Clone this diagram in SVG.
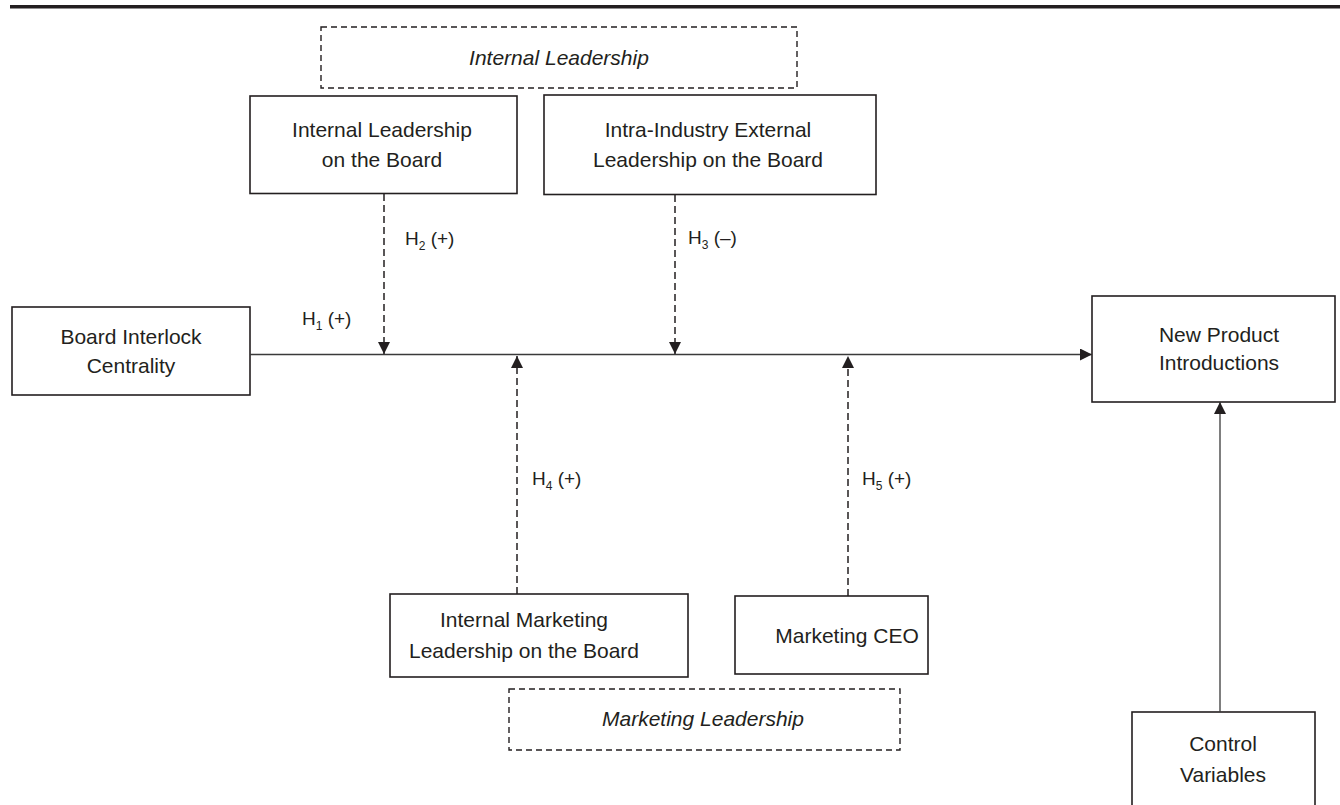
<svg xmlns="http://www.w3.org/2000/svg" width="1340" height="805" viewBox="0 0 1340 805">
  <defs>
    <style>
      .box { fill: #ffffff; stroke: #231f20; stroke-width: 1.6; }
      .group { fill: none; stroke: #231f20; stroke-width: 1.4; stroke-dasharray: 6 4; }
      .lbl { font-family: "Liberation Sans", Arial, sans-serif; font-size: 21px; fill: #231f20; text-anchor: middle; }
      .ital { font-style: italic; }
      .hyp { font-family: "Liberation Sans", Arial, sans-serif; font-size: 19px; fill: #231f20; }
      .sub { font-size: 12px; }
      .solid { fill: none; stroke: #3a3a3a; stroke-width: 1.3; }
      .dash { fill: none; stroke: #231f20; stroke-width: 1.5; stroke-dasharray: 7 4; }
    </style>
    <marker id="head" viewBox="0 0 12 12" refX="12" refY="6" markerWidth="12" markerHeight="12" markerUnits="userSpaceOnUse" orient="auto">
      <path d="M0,0 L12,6 L0,12 Z" fill="#231f20"/>
    </marker>
  </defs>

  <!-- heading rule -->
  <rect x="10" y="5" width="1330" height="3.5" fill="#231f20"/>

  <!-- grouping frames -->
  <g id="internal-leadership-group">
    <rect class="group" x="321" y="27" width="476" height="61"/>
    <text class="lbl ital" x="559" y="65">Internal Leadership</text>
  </g>
  <g id="marketing-leadership-group">
    <rect class="group" x="509" y="689" width="391" height="61"/>
    <text class="lbl ital" x="703" y="726">Marketing Leadership</text>
  </g>

  <!-- nodes -->
  <g id="internal-leadership-board">
    <rect class="box" x="250" y="96" width="267" height="97.5"/>
    <text class="lbl" x="382" y="137">Internal Leadership</text>
    <text class="lbl" x="382" y="167">on the Board</text>
  </g>
  <g id="intra-industry-external">
    <rect class="box" x="544" y="95" width="332" height="99.5"/>
    <text class="lbl" x="708" y="137">Intra-Industry External</text>
    <text class="lbl" x="708" y="167">Leadership on the Board</text>
  </g>
  <g id="board-interlock-centrality">
    <rect class="box" x="12" y="307" width="238" height="88"/>
    <text class="lbl" x="131" y="344">Board Interlock</text>
    <text class="lbl" x="131" y="373">Centrality</text>
  </g>
  <g id="new-product-introductions">
    <rect class="box" x="1092" y="296" width="243" height="106"/>
    <text class="lbl" x="1219" y="342">New Product</text>
    <text class="lbl" x="1219" y="370">Introductions</text>
  </g>
  <g id="internal-marketing-leadership">
    <rect class="box" x="390" y="594" width="298" height="83"/>
    <text class="lbl" x="524" y="627">Internal Marketing</text>
    <text class="lbl" x="524" y="658">Leadership on the Board</text>
  </g>
  <g id="marketing-ceo">
    <rect class="box" x="735" y="596" width="193" height="78"/>
    <text class="lbl" x="847" y="643">Marketing CEO</text>
  </g>
  <g id="control-variables">
    <rect class="box" x="1132" y="712" width="183" height="110"/>
    <text class="lbl" x="1223" y="751">Control</text>
    <text class="lbl" x="1223" y="782">Variables</text>
  </g>

  <!-- connectors -->
  <g id="connectors">
    <line class="solid" x1="250" y1="354.5" x2="1092" y2="354.5" marker-end="url(#head)"/>
    <line class="dash" x1="384" y1="194" x2="384" y2="354" marker-end="url(#head)"/>
    <line class="dash" x1="675" y1="195" x2="675" y2="354" marker-end="url(#head)"/>
    <line class="dash" x1="517" y1="594" x2="517" y2="356" marker-end="url(#head)"/>
    <line class="dash" x1="848" y1="596" x2="848" y2="356" marker-end="url(#head)"/>
    <line class="solid" x1="1220" y1="712" x2="1220" y2="402" marker-end="url(#head)"/>
  </g>

  <!-- hypothesis labels -->
  <g id="hypotheses">
    <text class="hyp" x="302" y="325">H<tspan class="sub" dy="5">1</tspan><tspan dy="-5"> (+)</tspan></text>
    <text class="hyp" x="405" y="245">H<tspan class="sub" dy="5">2</tspan><tspan dy="-5"> (+)</tspan></text>
    <text class="hyp" x="688" y="244">H<tspan class="sub" dy="5">3</tspan><tspan dy="-5"> (–)</tspan></text>
    <text class="hyp" x="532" y="485">H<tspan class="sub" dy="5">4</tspan><tspan dy="-5"> (+)</tspan></text>
    <text class="hyp" x="862" y="485">H<tspan class="sub" dy="5">5</tspan><tspan dy="-5"> (+)</tspan></text>
  </g>
</svg>
